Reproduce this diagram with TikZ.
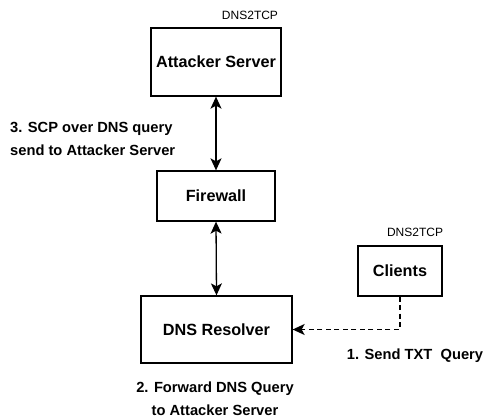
\documentclass[tikz,border=0pt]{standalone}
\usepackage{fontspec}
\setmainfont{Liberation Sans}
\usetikzlibrary{arrows.meta}
\begin{document}
\begin{tikzpicture}[x=1pt,y=-1pt,
  box/.style={draw, line width=1.3pt, minimum width=#1, inner sep=0pt, font=\bfseries\fontsize{16.2}{19}\selectfont},
  lbl/.style={font=\bfseries\fontsize{14.7}{23}\selectfont, inner sep=0pt},
  tag/.style={font=\fontsize{12}{14}\selectfont, inner sep=0pt},
  tip/.style={Stealth[length=12pt,width=11pt,inset=3pt]},
  link/.style={line width=1.3pt, {Stealth[length=12pt,width=11pt,inset=3pt]}-{Stealth[length=12pt,width=11pt,inset=3pt]}},
  dlink/.style={line width=1.3pt, dash pattern=on 5pt off 3.5pt, -{Stealth[length=12pt,width=11pt,inset=3pt]}}]
\useasboundingbox (0,0) rectangle (487,420);
\node[box=130pt, minimum height=68pt] (atk) at (216,62) {Attacker Server};
\node[box=118pt, minimum height=50pt] (fw) at (216,196) {Firewall};
\node[box=151pt, minimum height=67pt] (dns) at (216.5,329.5) {DNS Resolver};
\node[box=84pt, minimum height=50pt] (cli) at (400,271) {Clients};
\node[tag] (t1) at (250,15) {DNS2TCP};
\node[tag] (t2) at (415,232) {DNS2TCP};
\node[lbl, align=left, anchor=west] (l3) at (10,138.5) {3. SCP over DNS query\\send to Attacker Server};
\node[lbl, align=center] (l2) at (215,398.5) {2. Forward DNS Query\\to Attacker Server};
\node[lbl] (l1) at (415,356) {1. Send TXT\ \ Query};
\coordinate (corner) at (cli.south |- dns.east);
\draw[link] (atk.south) -- (fw.north);
\draw[link] (fw.south) -- (dns.north);
\draw[dlink] (cli.south) -- (corner) -- (dns.east);
\end{tikzpicture}
\end{document}
